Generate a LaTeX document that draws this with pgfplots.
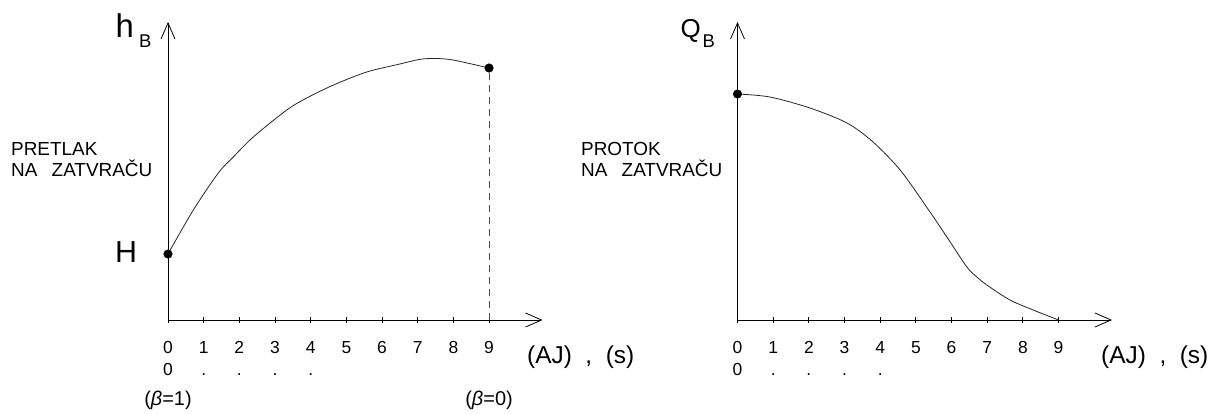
\documentclass[border=0pt]{standalone}
\usepackage{fontspec}
\setmainfont{Liberation Sans}
\usepackage{pgfplots}
\pgfplotsset{compat=1.18}
\usetikzlibrary{arrows.meta}

\pgfplotsset{
  gate/.style={
    x=35.67bp, y=1bp,
    xmin=0, xmax=10.5, ymin=0, ymax=298,
    axis lines=left,
    axis line style={line width=0.8bp, -{Straight Barb[length=16bp,width=14bp,line width=0.8bp]}},
    xtick={0,...,9},
    ytick=\empty,
    tick align=center,
    major tick length=6bp,
    tick style={line width=0.8bp, black},
    xticklabel style={anchor=north, inner sep=0pt, yshift=-14.25bp, align=center,
      font=\fontsize{17.5}{22.5}\selectfont},
    clip=false,
    anchor=south west,
  },
  curve/.style={smooth, tension=0.5, line width=0.8bp, black!85},
  dot/.style={only marks, mark=*, mark size=4.3bp, black},
}

\begin{document}
\begin{tikzpicture}
\path[use as bounding box] (0,0) rectangle (1213bp,-414bp);

% pretlak na zatvracu
\begin{axis}[gate, at={(168bp,-320bp)},
  xticklabels={{\strut 0\\\strut 0},{\strut 1\\\strut .},{\strut 2\\\strut .},{\strut 3\\\strut .},{\strut 4\\\strut .},
    {\strut 5\\\strut},{\strut 6\\\strut},{\strut 7\\\strut},{\strut 8\\\strut},{\strut 9\\\strut}}]
\addplot[curve] coordinates {
  (0,66)(0.71,110)(1.41,147)(1.83,163)(2.39,183)(3.33,210)(3.89,222)
  (4.64,235)(5.57,248)(6.50,256)(7.07,260.7)(7.5,261.5)(7.99,260)(9,252)
};
\addplot[dash pattern=on 7bp off 5bp, line width=0.8bp, black!70] coordinates {(9,0)(9,252)};
\addplot[dot] coordinates {(0,66)(9,252)};
\node[anchor=base, inner sep=0pt, font=\fontsize{20}{20}\selectfont] at (axis cs:0,-85) {(\textit{β}=1)};
\node[anchor=base, inner sep=0pt, font=\fontsize{20}{20}\selectfont] at (axis cs:9,-85) {(\textit{β}=0)};
\end{axis}

% protok na zatvracu
\begin{axis}[gate, at={(737.5bp,-320bp)},
  xticklabels={{\strut 0\\\strut 0},{\strut 1\\\strut .},{\strut 2\\\strut .},{\strut 3\\\strut .},{\strut 4\\\strut .},
    {\strut 5\\\strut},{\strut 6\\\strut},{\strut 7\\\strut},{\strut 8\\\strut},{\strut 9\\\strut}}]
\addplot[curve] coordinates {
  (0,226)(0.91,223)(2.03,212)(3.07,197)(3.80,178)(4.56,150)(5.32,112)
  (5.87,83)(6.43,53)(6.71,43)(6.99,35)(7.64,20)(8.29,10)(9,0)
};
\addplot[dot] coordinates {(0,226)};
\end{axis}

\tikzset{lbl/.style={anchor=base west, inner sep=0pt}}
\node[lbl, font=\fontsize{33}{33}\selectfont] at (115.5bp,-37bp) {h};
\node[lbl, font=\fontsize{18.5}{18.5}\selectfont] at (139bp,-47bp) {B};
\node[lbl, font=\fontsize{30.5}{30.5}\selectfont] at (115bp,-262bp) {H};
\node[lbl, font=\fontsize{19}{19}\selectfont] at (11bp,-155bp) {PRETLAK};
\node[lbl, font=\fontsize{19}{19}\selectfont] at (11bp,-176bp) {NA\hspace{0.75em}ZATVRAČU};
\node[lbl, font=\fontsize{24.5}{24.5}\selectfont] at (527bp,-363bp) {(AJ)\ \ ,\ \ (s)};

\node[lbl, font=\fontsize{26}{26}\selectfont] at (680.5bp,-37bp) {Q};
\node[lbl, font=\fontsize{18.5}{18.5}\selectfont] at (702.5bp,-47bp) {B};
\node[lbl, font=\fontsize{19}{19}\selectfont] at (581bp,-155bp) {PROTOK};
\node[lbl, font=\fontsize{19}{19}\selectfont] at (581bp,-176bp) {NA\hspace{0.75em}ZATVRAČU};
\node[lbl, font=\fontsize{24.5}{24.5}\selectfont] at (1101bp,-363bp) {(AJ)\ \ ,\ \ (s)};
\end{tikzpicture}
\end{document}
